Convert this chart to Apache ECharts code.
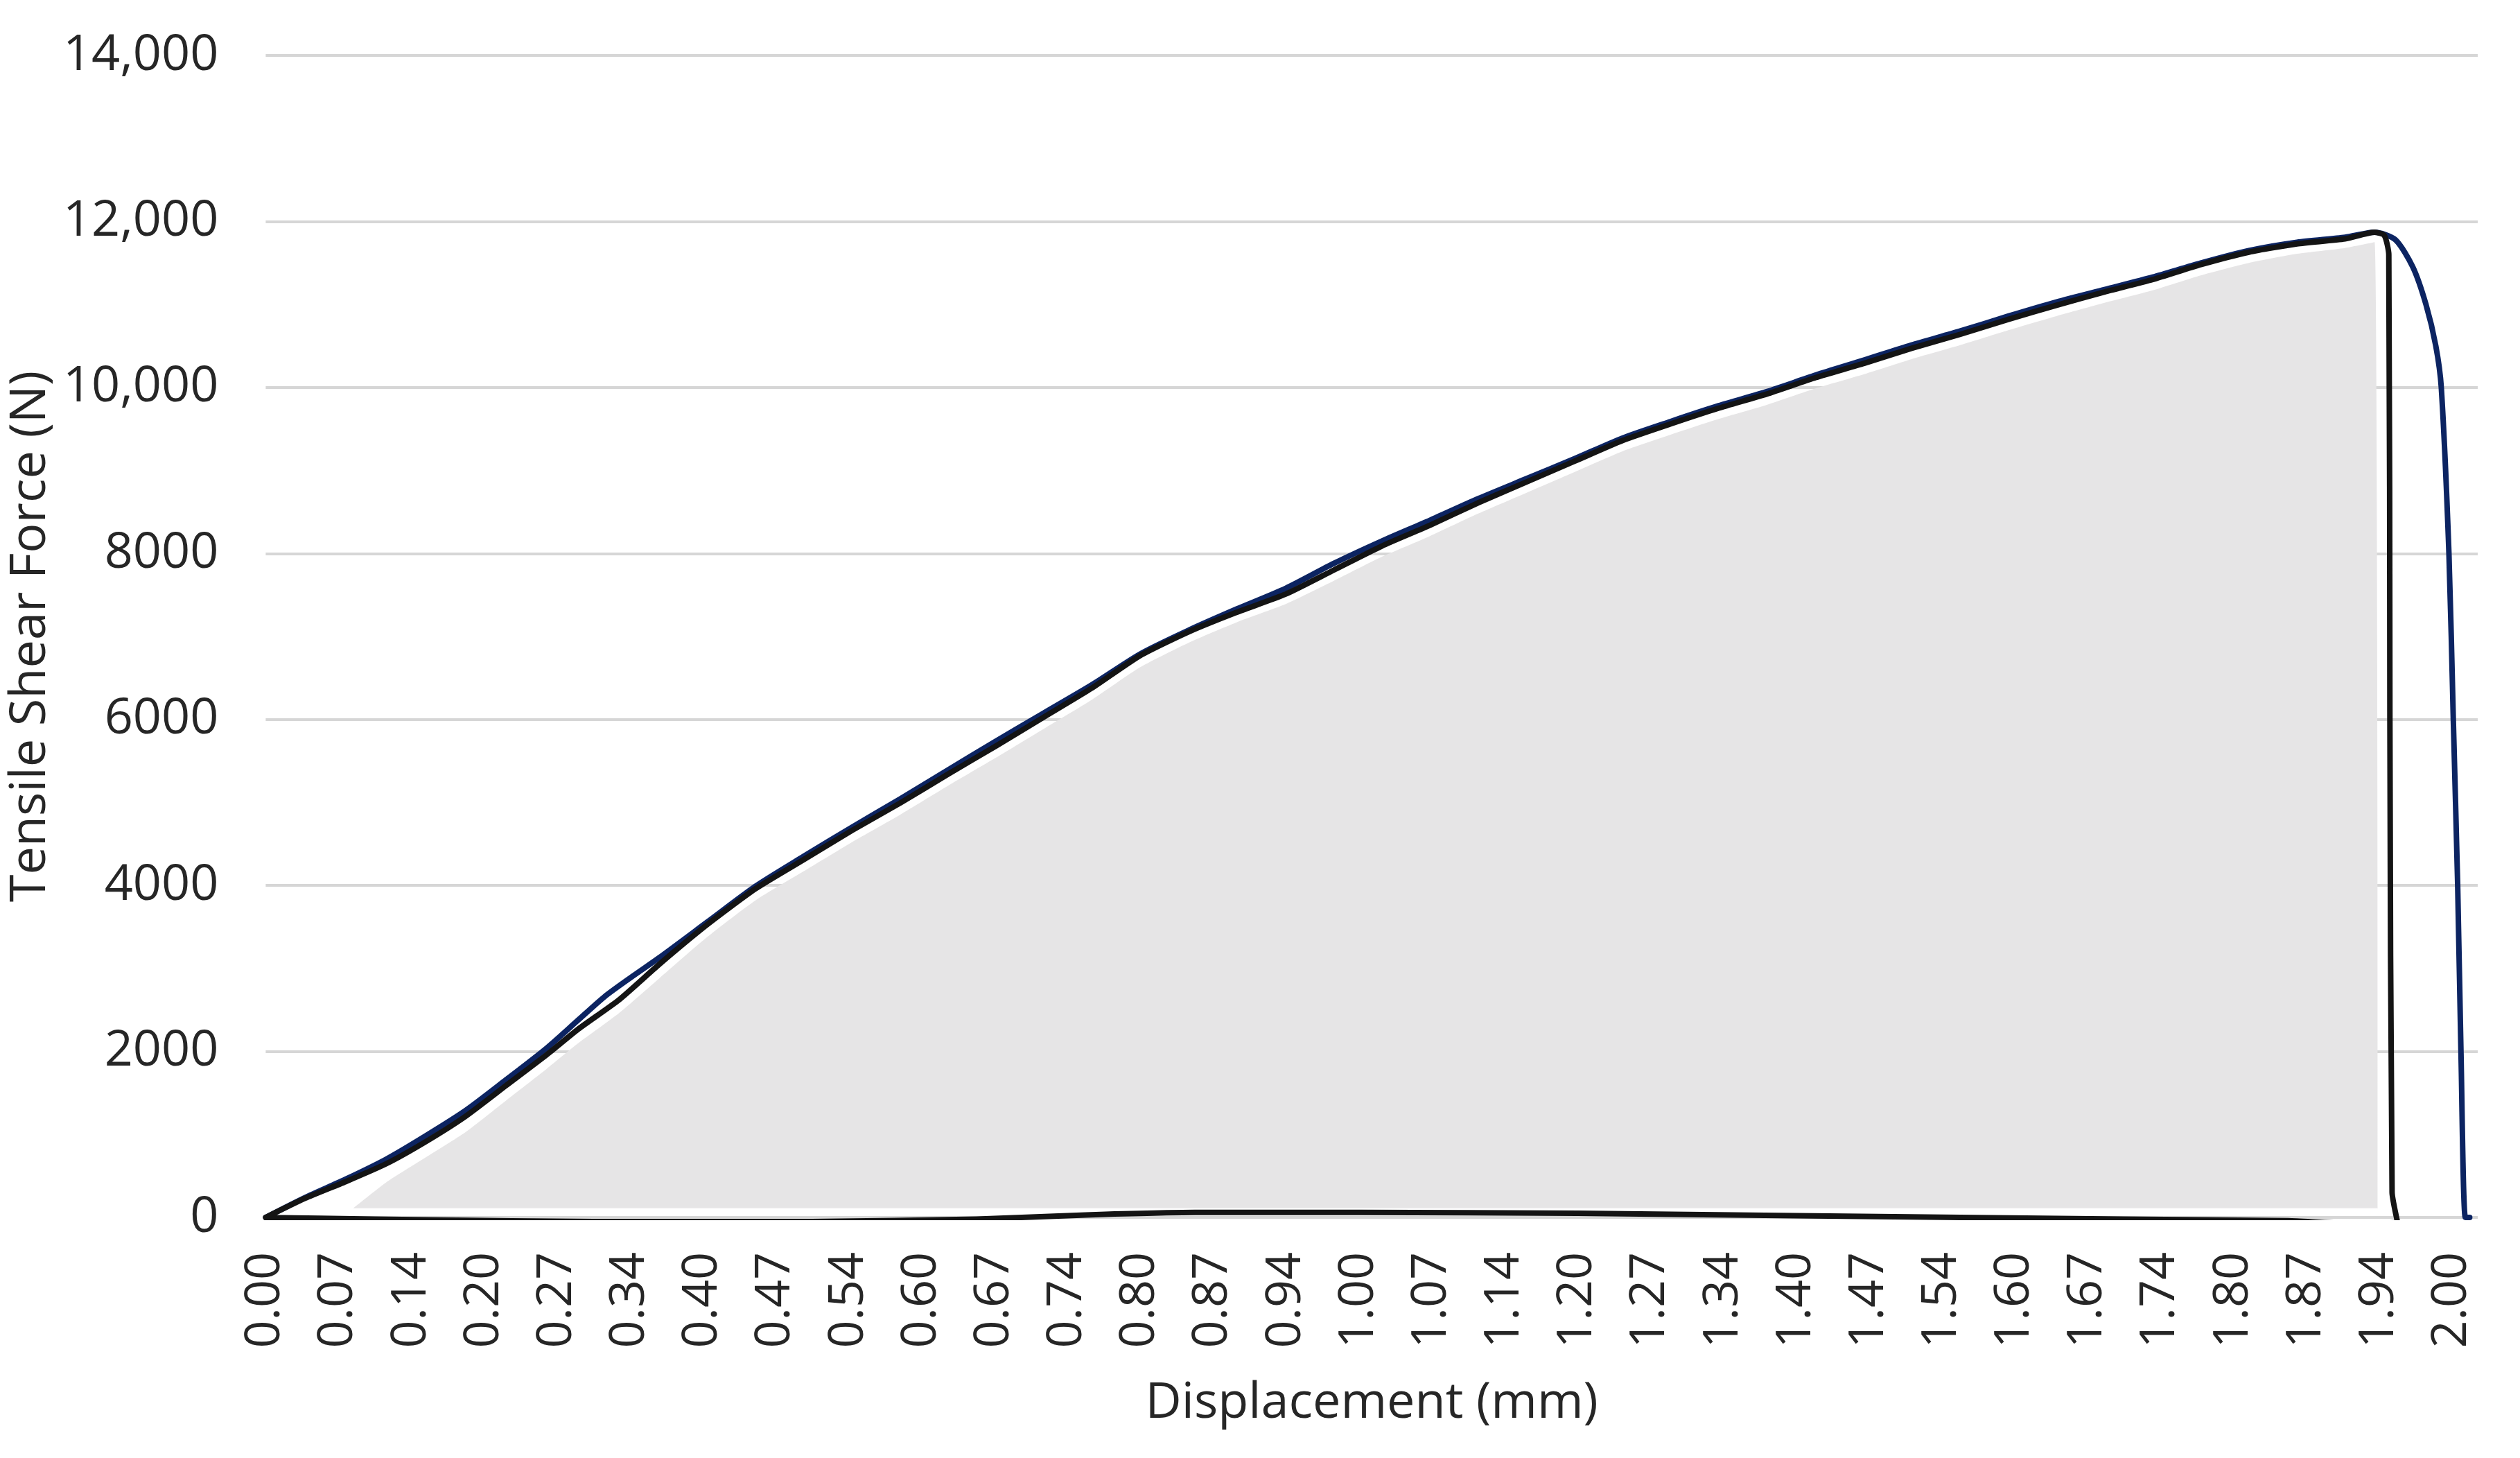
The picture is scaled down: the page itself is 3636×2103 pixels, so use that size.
<!DOCTYPE html>
<html>
<head>
<meta charset="utf-8">
<script src="https://cdn.jsdelivr.net/npm/echarts@6/dist/echarts.min.js"></script>
<style>
html,body{margin:0;padding:0;background:#fff;}
#chart{width:3636px;height:2103px;}
</style>
</head>
<body>
<div id="chart"></div>
<script>
// x tick labels (Displacement, mm) – one per tick step
const xTickLabels = ['0.00','0.07','0.14','0.20','0.27','0.34','0.40','0.47','0.54','0.60','0.67','0.74','0.80','0.87','0.94','1.00','1.07','1.14','1.20','1.27','1.34','1.40','1.47','1.54','1.60','1.67','1.74','1.80','1.87','1.94','2.00'];
const xStepMm = 2 / 30; // mm between two tick labels
const yTickLabels = ['0','2000','4000','6000','8000','10,000','12,000','14,000'];

// black trace (loading curve, drop, return along the base)
const blackX = [0,0.036,0.073,0.110,0.146,0.183,0.220,0.257,0.286,0.323,0.360,0.404,0.448,0.492,0.536,0.580,0.624,0.668,0.712,0.756,0.800,0.845,0.888,0.933,0.977,1.021,1.065,1.109,1.153,1.197,1.241,1.285,1.329,1.373,1.418,1.462,1.505,1.550,1.594,1.638,1.682,1.726,1.770,1.814,1.858,1.902,1.929,1.938,1.942,1.943,1.945,1.950,1.900,1.850,1.700,1.550,1.400,1.200,1.000,0.850,0.750,0.650,0.500,0.300,0.150,0.050,0];
const blackY = [0,230,430,645,910,1220,1590,1960,2270,2620,3050,3530,3960,4310,4660,4990,5340,5680,6030,6380,6770,7060,7290,7510,7800,8090,8340,8610,8860,9110,9360,9560,9750,9920,10120,10290,10470,10640,10820,10990,11150,11300,11480,11630,11730,11790,11870,11830,11600,6000,300,-60,-70,-40,-20,0,20,50,60,60,30,-20,-50,-50,-30,-10,0];

// blue trace
const blueX = [0,0.036,0.073,0.110,0.146,0.183,0.220,0.257,0.286,0.310,0.335,0.360,0.404,0.448,0.492,0.536,0.580,0.624,0.668,0.712,0.756,0.800,0.845,0.888,0.933,0.977,1.021,1.065,1.109,1.153,1.197,1.241,1.285,1.329,1.373,1.418,1.462,1.505,1.550,1.594,1.638,1.682,1.726,1.770,1.814,1.858,1.902,1.929,1.948,1.964,1.976,1.985,1.990,1.997,2.001,2.005,2.008,2.012,2.016];
const blueY = [0,240,460,700,980,1290,1660,2040,2380,2660,2900,3130,3560,3990,4350,4700,5040,5390,5740,6080,6420,6790,7080,7330,7580,7880,8150,8400,8660,8900,9140,9390,9590,9780,9950,10150,10330,10510,10680,10860,11030,11180,11330,11500,11650,11750,11810,11870,11780,11450,11000,10500,10000,8000,6000,4000,2000,0,0];

// grey shaded region (top edge)
const greyX = [0.080,0.110,0.146,0.183,0.220,0.257,0.286,0.323,0.360,0.404,0.448,0.492,0.536,0.580,0.624,0.668,0.712,0.756,0.800,0.845,0.888,0.933,0.977,1.021,1.065,1.109,1.153,1.197,1.241,1.285,1.329,1.373,1.418,1.462,1.505,1.550,1.594,1.638,1.682,1.726,1.770,1.814,1.858,1.902,1.929,1.932];
const greyY = [110,420,720,1030,1410,1790,2100,2460,2880,3380,3820,4170,4520,4850,5200,5540,5890,6240,6630,6930,7170,7390,7670,7960,8210,8480,8730,8980,9230,9430,9620,9790,9990,10160,10340,10510,10690,10860,11020,11170,11350,11500,11610,11680,11750,110];

function pts(xs, ys){ return xs.map((x,i)=>[x / xStepMm, ys[i]]); }

const font = 'Open Sans';
const chart = echarts.init(document.getElementById('chart'), null, {renderer:'canvas'});
chart.setOption({
  animation: false,
  backgroundColor: '#ffffff',
  grid: {left: 380, right: 61, top: 80, bottom: 347, containLabel: false},
  xAxis: {
    type: 'value', min: 0, max: 30.35, interval: 1,
    name: 'Displacement (mm)', nameLocation: 'middle', nameGap: 232,
    nameTextStyle: {fontFamily: font, fontSize: 72, color: '#262626'},
    axisLine: {show: false}, axisTick: {show: false}, splitLine: {show: false},
    axisLabel: {
      rotate: 90, margin: 50, fontFamily: font, fontSize: 70, color: '#262626',
      formatter: v => (Math.abs(v - Math.round(v)) < 1e-6 && xTickLabels[Math.round(v)] !== undefined) ? xTickLabels[Math.round(v)] : ''
    }
  },
  yAxis: {
    type: 'value', min: 0, max: 14000, interval: 2000,
    name: 'Tensile Shear Force (N)', nameLocation: 'middle', nameGap: 290,
    nameTextStyle: {fontFamily: font, fontSize: 72, color: '#262626'},
    axisLine: {show: false}, axisTick: {show: false},
    splitLine: {show: true, lineStyle: {color: '#d6d6d6', width: 4}},
    axisLabel: {
      margin: 68, fontFamily: font, fontSize: 72, color: '#262626',
      formatter: v => yTickLabels[Math.round(v / 2000)]
    }
  },
  series: [
    {
      type: 'line', name: 'area', data: pts(greyX, greyY), showSymbol: false, symbol: 'none',
      lineStyle: {width: 0, opacity: 0},
      areaStyle: {color: '#e6e5e6', opacity: 1, origin: 110},
      smooth: 0.2, z: 1
    },
    {
      type: 'line', name: 'blue', data: pts(blueX, blueY), showSymbol: false, symbol: 'none',
      lineStyle: {color: '#0c2462', width: 8, cap: 'round', join: 'round'},
      smooth: 0.25, z: 2
    },
    {
      type: 'line', name: 'black', data: pts(blackX, blackY), showSymbol: false, symbol: 'none',
      lineStyle: {color: '#141414', width: 8, cap: 'round', join: 'round'},
      smooth: 0.2, z: 3
    }
  ]
});
</script>
</body>
</html>
